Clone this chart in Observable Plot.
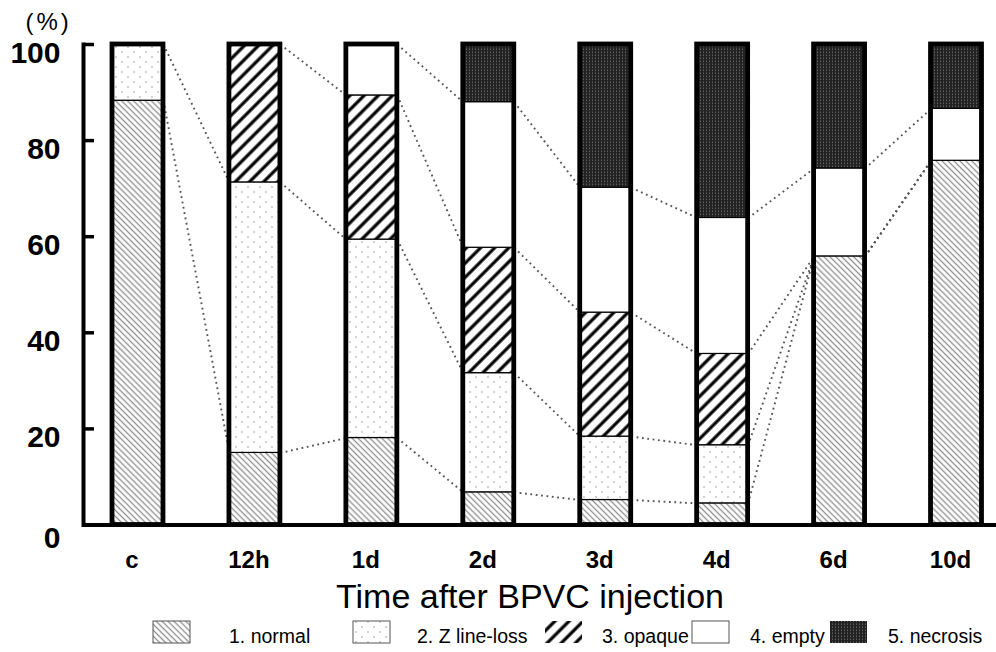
<!DOCTYPE html>
<html><head><meta charset="utf-8">
<script src="https://cdn.jsdelivr.net/npm/d3@7"></script>
<script src="https://cdn.jsdelivr.net/npm/@observablehq/plot@0.6"></script>
<style>
body{margin:0;background:#fff;font-family:"Liberation Sans",Arial,Helvetica,sans-serif;}
#wrap{position:relative;width:996px;height:652px;overflow:hidden;background:#fff;}
#chart{position:absolute;left:0;top:0;}
#below{position:absolute;left:0;top:575px;}
</style></head><body>
<svg width="0" height="0" style="position:absolute">
  <defs>
    <pattern id="pNormal" patternUnits="userSpaceOnUse" width="4.2" height="10" patternTransform="rotate(-45)">
      <rect width="4.2" height="10" fill="#fff"/>
      <line x1="2.1" y1="0" x2="2.1" y2="10" stroke="#8f8f8f" stroke-width="1.3"/>
    </pattern>
    <pattern id="pZ" patternUnits="userSpaceOnUse" width="12" height="10">
      <rect width="12" height="10" fill="#fff"/>
      <circle cx="2" cy="2" r="0.8" fill="#9a9a9a"/>
      <circle cx="8" cy="7" r="0.8" fill="#9a9a9a"/>
    </pattern>
    <pattern id="pOpaque" patternUnits="userSpaceOnUse" width="10" height="10" patternTransform="rotate(45)">
      <rect width="10" height="10" fill="#fff"/>
      <line x1="5" y1="0" x2="5" y2="10" stroke="#000" stroke-width="3.2"/>
    </pattern>
    <pattern id="pNecrosis" patternUnits="userSpaceOnUse" width="3" height="3">
      <rect width="3" height="3" fill="#222"/>
      <rect x="1.1" y="0.5" width="0.8" height="1.6" fill="#6e6e6e"/>
    </pattern>
  </defs>
</svg>
<div id="wrap"><div id="chart"></div><div id="below"></div></div>
<script>
const times = ["c","12h","1d","2d","3d","4d","6d","10d"];
const categories = ["1. normal","2. Z line-loss","3. opaque","4. empty","5. necrosis"];
const normal    = [88.3, 15.0, 18.1,  6.8,  5.2,  4.5, 55.9, 75.8];
const zLineLoss = [11.7, 56.3, 41.3, 24.8, 13.2, 12.1,  0.0,  0.0];
const opaque    = [ 0.0, 28.7, 30.0, 26.1, 25.8, 19.0,  0.0,  0.0];
const empty     = [ 0.0,  0.0, 10.6, 30.3, 26.0, 28.3, 18.3, 10.8];
const necrosis  = [ 0.0,  0.0,  0.0, 12.0, 29.8, 36.1, 25.8, 13.4];
const yTicks = [0, 20, 40, 60, 80, 100];

const series = [normal, zLineLoss, opaque, empty, necrosis];
const fills = ["url(#pNormal)", "url(#pZ)", "url(#pOpaque)", "#ffffff", "url(#pNecrosis)"];
const w = 0.436;

const rows = [];
const cum = series.map(() => []);
times.forEach((t, i) => {
  let c = 0;
  series.forEach((vals, k) => {
    const v = vals[i];
    if (v > 0) rows.push({i, t, cat: categories[k], y1: c, y2: c + v});
    c += v;
    cum[k][i] = c;
  });
});
const totals = times.map((t, i) => cum[4][i]);
const links = [];
for (let k = 0; k < 4; k++) {
  for (let i = 0; i < times.length - 1; i++) {
    const a = cum[k][i], b = cum[k][i + 1];
    if (a >= 99.9 && b >= 99.9) continue;
    links.push({x1: i + w / 2, x2: i + 1 - w / 2, y1: a, y2: b});
  }
}

const font = '"Liberation Sans", Arial, Helvetica, sans-serif';
const chart = Plot.plot({
  width: 996, height: 575,
  marginLeft: 83, marginRight: 0, marginTop: 44, marginBottom: 50.5,
  x: {domain: [-0.466, 7.342], axis: null},
  y: {domain: [0, 100], axis: null},
  color: {domain: categories, range: fills},
  style: {fontFamily: font, background: "#fff", overflow: "visible", color: "#000"},
  marks: [
    Plot.link(links, {x1: "x1", x2: "x2", y1: "y1", y2: "y2", stroke: "#555", strokeWidth: 1.9, strokeDasharray: "1.8,3.6"}),
    Plot.rect(rows, {x1: d => d.i - w / 2, x2: d => d.i + w / 2, y1: "y1", y2: "y2", fill: "cat", stroke: "#000", strokeWidth: 1.2}),
    Plot.rect(times, {x1: (d, i) => i - w / 2, x2: (d, i) => i + w / 2, y1: 0, y2: (d, i) => totals[i], fill: "none", stroke: "#000", strokeWidth: 4.8}),
    Plot.ruleY([0], {stroke: "#000", strokeWidth: 4}),
    Plot.frame({anchor: "left", stroke: "#000", strokeWidth: 4}),
    Plot.axisY(yTicks, {anchor: "right", frameAnchor: "left", tickSize: 10, stroke: "#000", strokeWidth: 3.5, tickFormat: () => "", label: null}),
    Plot.axisY(yTicks.filter(v => v > 0), {tickSize: 0, tickPadding: 23, fontSize: 30, fontWeight: "bold", dy: 8.5, label: null}),
    Plot.axisY([0], {tickSize: 0, tickPadding: 23, fontSize: 30, fontWeight: "bold", dy: 13, label: null}),
    Plot.axisX(d3.range(times.length), {tickSize: 0, tickPadding: 26, tickFormat: i => times[i], fontSize: 24, fontWeight: "bold", dx: -6, label: null}),
    Plot.text(["(%)"], {text: d => d, frameAnchor: "top-left", dx: -58, dy: -32, fontSize: 24})
  ]
});
d3.select(chart).selectAll("text").filter(function() { return this.textContent === "(%)"; })
  .attr("letter-spacing", 3);
document.getElementById("chart").appendChild(chart);

// Title + legend below the plot
const below = d3.select("#below").append("svg").attr("width", 996).attr("height", 77)
  .style("font-family", font);
below.append("text").attr("x", 530).attr("y", 33).attr("text-anchor", "middle")
  .attr("font-size", 34).attr("fill", "#000").text("Time after BPVC injection");
const swatchX = [153, 353, 545, 692, 830];
const labelX = [229, 417, 602, 750, 888];
categories.forEach((c, k) => {
  below.append("rect").attr("x", swatchX[k]).attr("y", 46).attr("width", 37).attr("height", 22)
    .attr("fill", fills[k]).attr("stroke", k === 2 || k === 4 ? "none" : "#555").attr("stroke-width", 1);
  below.append("text").attr("x", labelX[k]).attr("y", 68).attr("font-size", 19.5).attr("fill", "#000").text(c);
});
</script>
</body></html>
